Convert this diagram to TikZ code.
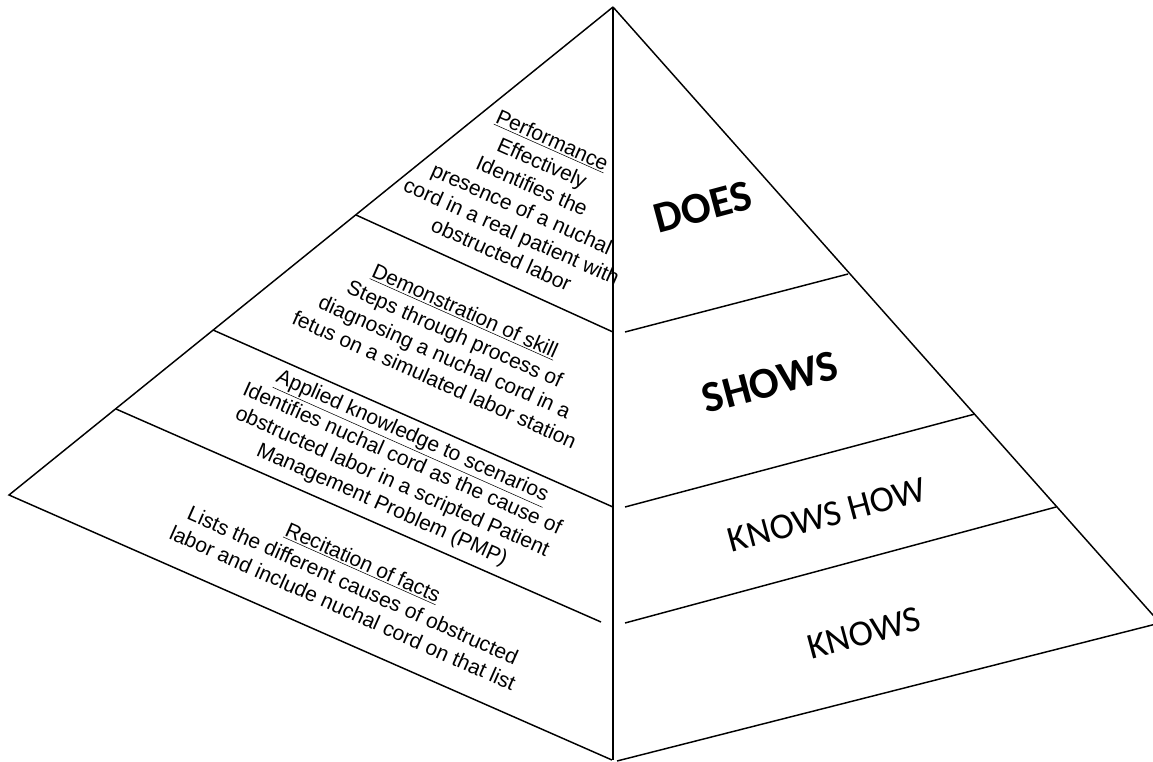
\documentclass[tikz,border=0pt]{standalone}
\usepackage{fontspec}
\setmainfont{Liberation Sans}
\newfontfamily\carlito{Carlito}
\usepackage{tikz}
\usetikzlibrary{positioning}
\tikzset{
    facet/.style={
        draw,
        line width=1.1pt,
        line join=miter
    },
    stage/.style={
        align=center,
        rotate=-24,
        inner sep=0pt,
        font=\fontsize{15.75}{18.8}\selectfont
    },
    level/.style={
        rotate=15,
        inner sep=0pt,
        font=\carlito\fontsize{27.5}{30}\selectfont
    },
    toplevel/.style={
        rotate=15,
        inner sep=0pt,
        font=\carlito\bfseries\fontsize{33}{36}\selectfont
    }
}

\begin{document}
\begin{tikzpicture}[x=0.75pt, y=-0.75pt]
    \useasboundingbox (0,0) rectangle (1153,761);

    % Corners
    \coordinate (apex) at (613,7);
    \coordinate (lc) at (9,495);
    \coordinate (bl) at (612,760);
    \coordinate (vb) at (613,760);
    \coordinate (br) at (617,761);
    \coordinate (rc) at (1160,623);

    % Faces
    \draw[facet] (apex) -- (lc) -- (bl);
    \draw[facet] (apex) -- (vb);
    \draw[facet] (apex) -- (rc) -- (br);

    % Left face dividers
    \coordinate (l1a) at (356,215);  \coordinate (l1b) at (613,332);
    \coordinate (l2a) at (213,330);  \coordinate (l2b) at (613,507);
    \coordinate (l3a) at (116,409);  \coordinate (l3b) at (601,622);
    \draw[facet] (l1a) -- (l1b);
    \draw[facet] (l2a) -- (l2b);
    \draw[facet] (l3a) -- (l3b);

    % Right face dividers
    \coordinate (r1a) at (625,332);  \coordinate (r1b) at (848,274);
    \coordinate (r2a) at (625,507);  \coordinate (r2b) at (975,414);
    \coordinate (r3a) at (625,623);  \coordinate (r3b) at (1056,507);
    \draw[facet] (r1a) -- (r1b);
    \draw[facet] (r2a) -- (r2b);
    \draw[facet] (r3a) -- (r3b);

    % Left face texts
    \node[stage] (perf) at (527,197) {\underline{Performance}\\Effectively\\Identifies the\\presence of a nuchal\\cord in a real patient with\\obstructed labor};
    \node[stage] (demo) at (450,345) {\underline{Demonstration of skill}\\Steps through process of\\diagnosing a nuchal cord in a\\fetus on a simulated labor station};
    \node[stage] (appl) at (397,471) {\underline{Applied knowledge to scenarios}\\Identifies nuchal cord as the cause of\\obstructed labor in a scripted Patient\\Management Problem (PMP)};
    \node[stage] (reci) at (353,585) {\underline{Recitation of facts}\\Lists the different causes of obstructed\\labor and include nuchal cord on that list};

    % Right face labels
    \node[toplevel] (does) at (703,207) {DOES};
    \node[toplevel] (shows) at (770,382) {SHOWS};
    \node[level] (knowshow) at (827,515) {KNOWS HOW};
    \node[level] (knows) at (864,633) {KNOWS};
\end{tikzpicture}
\end{document}
